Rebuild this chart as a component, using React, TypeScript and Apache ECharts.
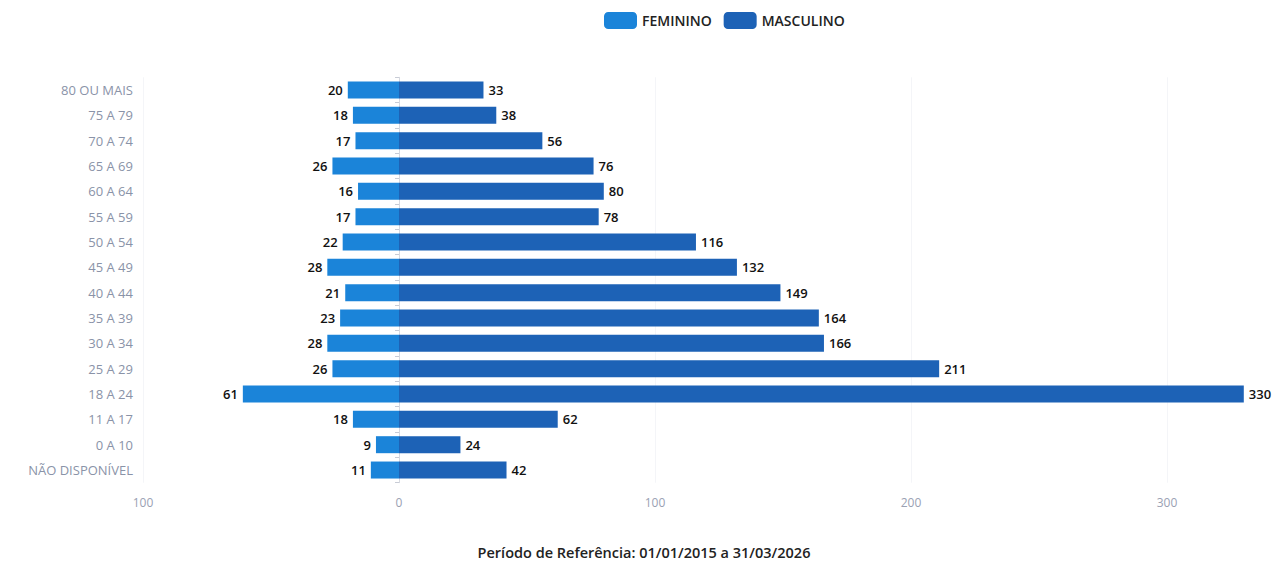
import React, { useEffect, useRef } from "react";
import * as echarts from "echarts";

const categories = [
  "NÃO DISPONÍVEL",
  "0 A 10",
  "11 A 17",
  "18 A 24",
  "25 A 29",
  "30 A 34",
  "35 A 39",
  "40 A 44",
  "45 A 49",
  "50 A 54",
  "55 A 59",
  "60 A 64",
  "65 A 69",
  "70 A 74",
  "75 A 79",
  "80 OU MAIS",
];

const feminino = [11, 9, 18, 61, 26, 28, 23, 21, 28, 22, 17, 16, 26, 17, 18, 20];
const masculino = [42, 24, 62, 330, 211, 166, 164, 149, 132, 116, 78, 80, 76, 56, 38, 33];

const seriesNames = ["FEMININO", "MASCULINO"];
const periodo = "Período de Referência: 01/01/2015 a 31/03/2026";

const FONT = "'Open Sans', 'Noto Sans', sans-serif";

export default function App() {
  const ref = useRef<HTMLDivElement>(null);

  useEffect(() => {
    if (!ref.current) return;
    const chart = echarts.init(ref.current, undefined, { renderer: "svg" });
    chart.setOption({
      animation: false,
      textStyle: { fontFamily: FONT },
      title: {
        text: periodo,
        left: "center",
        top: 540,
        textStyle: { fontSize: 14.5, fontWeight: 600, color: "#222", fontFamily: FONT },
      },
      legend: {
        data: seriesNames,
        left: 599,
        top: 7,
        icon: "roundRect",
        itemWidth: 33,
        itemHeight: 17,
        itemGap: 12,
        textStyle: { fontSize: 14, color: "#222", fontWeight: 600, fontFamily: FONT },
      },
      grid: {
        left: 143,
        right: 1288 - 1269.4,
        top: 77.3,
        bottom: 567 - 482.7,
        containLabel: false,
        outerBoundsMode: "none",
      },
      xAxis: {
        type: "value",
        min: -100,
        max: 340,
        interval: 100,
        axisLine: { show: false },
        axisTick: { show: false },
        splitLine: { show: true, showMaxLine: false, lineStyle: { color: "#f4f5f8", width: 1 } },
        axisLabel: {
          showMaxLabel: false,
          color: "#9aa1b3",
          fontSize: 12,
          margin: 14,
          fontFamily: FONT,
          formatter: (v: number) => String(Math.abs(v)),
        },
      },
      yAxis: {
        type: "category",
        data: categories,
        axisLine: { show: true, lineStyle: { color: "#d6d9e0" } },
        axisTick: { show: true, length: 4, lineStyle: { color: "#c8ccd6" } },
        axisLabel: {
          margin: 10,
          color: "#8a93a8",
          fontSize: 13,
          fontFamily: FONT,
        },
      },
      series: [
        {
          name: seriesNames[0],
          type: "bar",
          stack: "total",
          barWidth: 17,
          data: feminino.map((v) => -v),
          itemStyle: { color: "#1b84d9" },
          label: {
            show: true,
            position: "left",
            distance: 5,
            color: "#111",
            fontSize: 13,
            fontWeight: 600,
            fontFamily: FONT,
            formatter: (p: any) => String(Math.abs(p.value)),
          },
        },
        {
          name: seriesNames[1],
          type: "bar",
          stack: "total",
          barWidth: 17,
          data: masculino,
          itemStyle: { color: "#1d62b6" },
          label: {
            show: true,
            position: "right",
            distance: 5,
            color: "#111",
            fontSize: 13,
            fontWeight: 600,
            fontFamily: FONT,
          },
        },
      ],
    });
    return () => chart.dispose();
  }, []);

  return (
    <div
      ref={ref}
      style={{ position: "fixed", left: 0, top: 0, width: 1288, height: 567, background: "#fff" }}
    />
  );
}
